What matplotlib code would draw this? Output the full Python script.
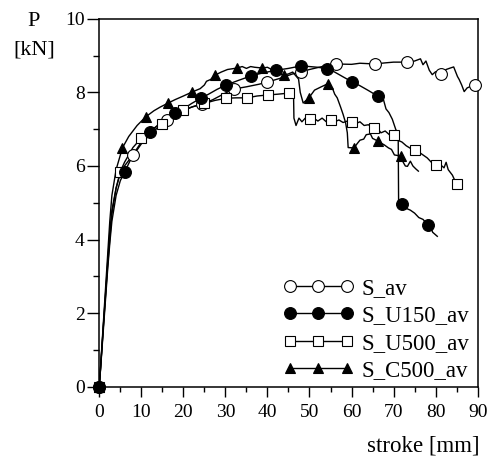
import matplotlib
matplotlib.use('Agg')
import matplotlib.pyplot as plt
from matplotlib.lines import Line2D
from matplotlib.ticker import MultipleLocator

plt.rcParams['font.family'] = ['Liberation Serif', 'DejaVu Serif']

# ---- data (stroke [mm], P [kN]) ----
s_av_x = [0, 1, 2, 2.5, 3, 4, 5, 6, 7, 8.1, 10, 12, 14, 16.2, 18, 20, 22, 24.5, 27, 30, 32,
          35, 38, 40, 43, 46, 48, 50, 53, 56.2, 60, 62, 65.5, 68, 70, 73.3, 75, 76.4, 77,
          77.7, 78.5, 79.2, 80, 81.4, 82.5, 83.5, 84.3, 85.2, 85.6, 86.2, 86.8, 87.5, 88.5,
          89.4, 90]
s_av_y = [0, 1.7, 3.4, 4.2, 4.8, 5.4, 5.8, 6.0, 6.15, 6.29, 6.6, 6.85, 7.05, 7.25, 7.4, 7.5,
          7.6, 7.68, 7.8, 7.98, 8.09, 8.15, 8.22, 8.28, 8.38, 8.5, 8.56, 8.62, 8.7, 8.77,
          8.76, 8.79, 8.77, 8.8, 8.82, 8.82, 8.85, 8.91, 8.75, 8.85, 8.6, 8.48, 8.56, 8.5,
          8.62, 8.66, 8.69, 8.43, 8.35, 8.2, 8.02, 8.12, 8.17, 8.2, 8.17]
s_av_mx = [0, 8.1, 16.2, 24.5, 32, 40, 48, 56.2, 65.5, 73.3, 81.4, 89.4]
s_av_my = [0, 6.29, 7.25, 7.68, 8.09, 8.28, 8.56, 8.77, 8.77, 8.82, 8.5, 8.2]

u150_x = [0, 1, 2, 2.5, 3, 4, 5, 6, 8, 10, 12.1, 14, 16, 18.1, 20, 22, 24.3, 26, 28, 30.2,
          33, 36.2, 39, 42.1, 45, 48.1, 50, 52, 54.2, 56, 58, 60.2, 62, 64, 66.2, 67, 67.6,
          68.2, 68.9, 69.7, 70.5, 71.1, 71.2, 72.1, 73, 74, 75, 76, 77, 78.1, 78.8, 79.3,
          79.8, 80.4]
u150_y = [0, 1.6, 3.2, 3.9, 4.5, 5.2, 5.6, 5.83, 6.3, 6.65, 6.92, 7.12, 7.3, 7.44, 7.55, 7.7,
          7.85, 7.95, 8.08, 8.2, 8.32, 8.45, 8.53, 8.6, 8.65, 8.72, 8.7, 8.68, 8.64, 8.55,
          8.42, 8.28, 8.18, 8.05, 7.9, 7.75, 7.8, 7.55, 7.45, 7.27, 7.0, 6.85, 5.0, 4.96,
          4.85, 4.8, 4.72, 4.6, 4.55, 4.41, 4.35, 4.2, 4.15, 4.09]
u150_mx = [0, 6, 12.1, 18.1, 24.3, 30.2, 36.2, 42.1, 48.1, 54.2, 60.2, 66.2, 72.1, 78.1]
u150_my = [0, 5.83, 6.92, 7.44, 7.85, 8.2, 8.45, 8.6, 8.72, 8.64, 8.28, 7.9, 4.96, 4.41]

u500_x = [0, 1, 2, 2.5, 3, 4, 5, 6, 8, 10, 12.5, 15, 17.5, 20, 22.5, 25, 27.5, 30.2, 32.5,
          35.2, 37.5, 40.2, 42.5, 45.2, 46.2, 46.3, 46.8, 47.5, 48.2, 49, 50.2, 51, 52, 53,
          54, 55, 56, 57, 58, 59, 60.2, 61, 62, 63, 64, 65.3, 66, 67, 68, 69, 70, 70.5, 71,
          72, 73, 74, 75, 76, 77, 78, 79, 80.2, 81, 82, 82.5, 83, 84, 84.6, 85.2]
u500_y = [0, 1.7, 3.3, 4.0, 4.7, 5.4, 5.85, 6.1, 6.5, 6.76, 7.0, 7.15, 7.35, 7.52, 7.62, 7.7,
          7.78, 7.84, 7.85, 7.85, 7.9, 7.93, 7.95, 7.98, 8.0, 7.3, 7.1, 7.3, 7.2, 7.3, 7.28,
          7.3, 7.22, 7.3, 7.2, 7.25, 7.2, 7.25, 7.18, 7.22, 7.19, 7.15, 7.2, 7.1, 7.12, 7.03,
          7.05, 6.9, 6.95, 6.85, 6.84, 6.9, 6.7, 6.65, 6.55, 6.48, 6.43, 6.38, 6.3, 6.22,
          6.1, 6.02, 6.05, 5.95, 6.1, 5.9, 5.75, 5.6, 5.5]
u500_mx = [0, 5, 10, 15, 20, 25, 30.2, 35.2, 40.2, 45.2, 50.2, 55, 60.2, 65.3, 70, 75, 80.2, 85.2]
u500_my = [0, 5.85, 6.76, 7.15, 7.52, 7.7, 7.84, 7.85, 7.93, 7.98, 7.28, 7.25, 7.19, 7.03,
           6.84, 6.43, 6.02, 5.5]

c500_x = [0, 1, 2, 2.5, 3, 4, 5.5, 7, 9, 11, 13, 14.5, 16.4, 18, 20, 22.1, 24, 25, 25.5,
          26.5, 27.6, 29, 30.5, 32.8, 34, 35, 36, 37, 38.8, 40, 41, 42, 43, 44, 45, 46,
          47.4, 47.8, 48.5, 49.8, 51.2, 52.8, 54.3, 55.5, 56, 56.6, 57.4, 58, 58.6, 59,
          59.2, 60.6, 61.3, 62, 62.9, 63.5, 64.5, 65, 66.2, 67, 67.7, 68.8, 69.5, 70.2,
          71.7, 72.3, 72.8, 73.3, 74, 74.6, 75.3, 75.9]
c500_y = [0, 1.8, 3.6, 4.5, 5.2, 5.9, 6.49, 6.8, 7.1, 7.33, 7.5, 7.6, 7.71, 7.8, 7.9, 8.01,
          8.1, 8.2, 8.3, 8.35, 8.47, 8.55, 8.62, 8.66, 8.7, 8.65, 8.7, 8.68, 8.66, 8.68,
          8.62, 8.55, 8.5, 8.47, 8.5, 8.55, 8.36, 8.0, 7.71, 7.84, 8.06, 8.15, 8.23, 8.1,
          7.95, 7.85, 7.6, 7.4, 7.17, 6.9, 6.5, 6.49, 6.6, 6.7, 6.73, 6.85, 6.87, 6.75,
          6.68, 6.62, 6.58, 6.49, 6.45, 6.3, 6.27, 6.1, 6.0, 5.99, 6.13, 6.0, 5.92, 5.86]
c500_mx = [0, 5.5, 11, 16.4, 22.1, 27.6, 32.8, 38.8, 44, 49.8, 54.3, 60.6, 66.2, 71.7]
c500_my = [0, 6.49, 7.33, 7.71, 8.01, 8.47, 8.66, 8.66, 8.47, 7.84, 8.23, 6.49, 6.68, 6.27]

labels = ['S_av', 'S_U150_av', 'S_U500_av', 'S_C500_av']


fig = plt.figure(figsize=(4.91, 4.59), dpi=100)
ax = fig.add_axes([0.2022, 0.157, 0.7706, 0.8023])

# (x, y, marker x, marker y, marker, face colour, size, marker zorder)
series = [
    (s_av_x, s_av_y, s_av_mx, s_av_my, 'o', 'white', 8.5, 3),
    (u150_x, u150_y, u150_mx, u150_my, 'o', 'black', 8.5, 5),
    (u500_x, u500_y, u500_mx, u500_my, 's', 'white', 7, 3),
    (c500_x, c500_y, c500_mx, c500_my, '^', 'black', 7.5, 4),
]

handles = []
for (x, y, mx, my, mk, fc, ms, zo), lab in zip(series, labels):
    ax.plot(x, y, color='black', lw=1.0, zorder=2)
    ax.plot(mx, my, ls='none', marker=mk, mfc=fc, mec='black', mew=0.8, ms=ms,
            zorder=zo, clip_on=False)
    handles.append(Line2D([], [], color='black', lw=1.0, marker=mk, mfc=fc, mec='black',
                          mew=0.8, ms=ms, label=lab))

ax.set_xlim(0, 90)
ax.set_ylim(0, 10)
ax.xaxis.set_major_locator(MultipleLocator(10))
ax.xaxis.set_minor_locator(MultipleLocator(5))
ax.yaxis.set_major_locator(MultipleLocator(2))
ax.yaxis.set_minor_locator(MultipleLocator(1))
ax.tick_params(axis='x', which='major', direction='out', length=7.5, width=1, labelsize=14, pad=5)
ax.tick_params(axis='x', which='minor', direction='out', length=3.8, width=1)
ax.tick_params(axis='y', which='major', direction='out', length=8.5, width=1, labelsize=14, pad=2)
ax.tick_params(axis='y', which='minor', direction='out', length=4.5, width=1)
for sp in ax.spines.values():
    sp.set_linewidth(1.1)

ax.legend(handles=handles, loc='lower left', bbox_to_anchor=(0.485, 0.015), frameon=False,
          numpoints=3, fontsize=16.5, handlelength=3.1, handletextpad=0.35, labelspacing=0.28,
          borderpad=0, borderaxespad=0)

fig.text(34 / 491, 1 - 22 / 459, 'P', fontsize=16, ha='center', va='center')
fig.text(34 / 491, 1 - 50 / 459, '[kN]', fontsize=16, ha='center', va='center')
fig.text(480 / 491, 1 - 446 / 459, 'stroke [mm]', fontsize=16.5, ha='right', va='center')

fig.savefig('out.png', dpi=100)
